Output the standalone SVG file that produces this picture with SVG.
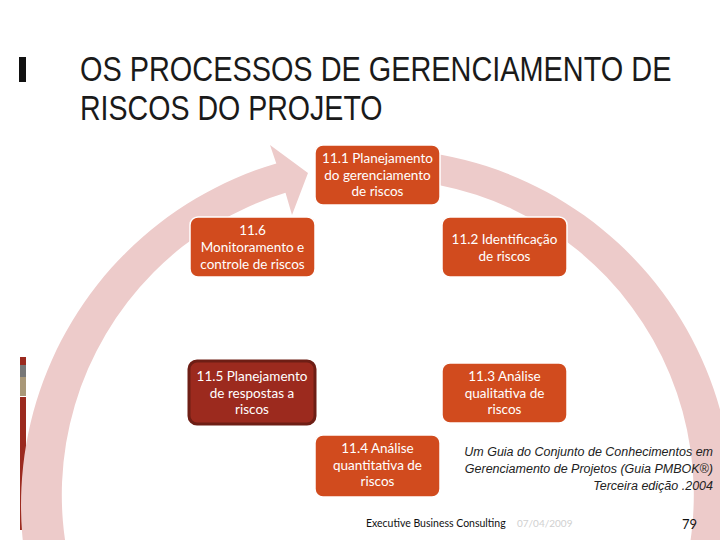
<svg xmlns="http://www.w3.org/2000/svg" width="720" height="540" viewBox="0 0 720 540">
  <style>
    .box { fill: #D14B1E; stroke: #FFFFFF; stroke-width: 1.5; }
    .box-dark { fill: #9C2A1E; stroke: #6E1E15; stroke-width: 3; }
    .lbl { font-family: Lato, "Open Sans", "Liberation Sans", sans-serif; font-size: 13.5px; fill: #FFFFFF; text-anchor: middle; }
    .title { font-family: "Liberation Sans", Arial, sans-serif; font-size: 35px; fill: #1A1A1A; }
    .note { font-family: "Liberation Sans", Arial, sans-serif; font-style: italic; font-size: 12.5px; fill: #222222; text-anchor: end; }
    .foot { font-family: Lato, "Liberation Sans", sans-serif; font-size: 10.5px; fill: #111111; }
  </style>
  <rect width="720" height="540" fill="#FFFFFF"/>

  <!-- left decorative bar -->
  <g id="sidebar">
    <rect x="19" y="57" width="7" height="25" fill="#111111"/>
    <rect x="20" y="357" width="6" height="8" fill="#9B2A1F"/>
    <rect x="20" y="365" width="6" height="12" fill="#777777"/>
    <rect x="20" y="377" width="6" height="19" fill="#A99878"/>
    <rect x="20" y="397" width="6" height="133" fill="#9B2A1F"/>
  </g>

  <!-- circular arrow -->
  <g id="connectors">
    <path d="M 400,149.7 A 356 356 0 1 1 276.3,163.5 L 270,145 L 308,173 L 292,215 L 285.5,192.8 A 316 316 0 1 0 400,179.8 Z" fill="#EDCBCA"/>
  </g>

  <!-- title -->
  <g id="title">
    <text class="title" transform="translate(80,81) scale(0.825,1)">OS PROCESSOS DE GERENCIAMENTO DE</text>
    <text class="title" transform="translate(80,120) scale(0.816,1)">RISCOS DO PROJETO</text>
  </g>

  <g id="n11_1">
    <rect class="box" x="315" y="145" width="125" height="60" rx="8"/>
    <text class="lbl" x="377.5" y="163">11.1 Planejamento</text>
    <text class="lbl" x="377.5" y="180">do gerenciamento</text>
    <text class="lbl" x="377.5" y="196">de riscos</text>
  </g>

  <g id="n11_2">
    <rect class="box" x="442" y="217" width="125" height="60" rx="8"/>
    <text class="lbl" x="504.5" y="244">11.2 Identificação</text>
    <text class="lbl" x="504.5" y="261">de riscos</text>
  </g>

  <g id="n11_3">
    <rect class="box" x="442" y="363" width="125" height="60" rx="8"/>
    <text class="lbl" x="504.5" y="381">11.3 Análise</text>
    <text class="lbl" x="504.5" y="398">qualitativa de</text>
    <text class="lbl" x="504.5" y="414">riscos</text>
  </g>

  <g id="n11_4">
    <rect class="box" x="315" y="435" width="125" height="62" rx="8"/>
    <text class="lbl" x="377.5" y="453">11.4 Análise</text>
    <text class="lbl" x="377.5" y="470">quantitativa de</text>
    <text class="lbl" x="377.5" y="486">riscos</text>
  </g>

  <g id="n11_5">
    <rect class="box-dark" x="189" y="361" width="126" height="63" rx="8"/>
    <text class="lbl" x="252" y="381">11.5 Planejamento</text>
    <text class="lbl" x="252" y="398">de respostas a</text>
    <text class="lbl" x="252" y="414">riscos</text>
  </g>

  <g id="n11_6">
    <rect class="box" x="190" y="217" width="125" height="60" rx="8"/>
    <text class="lbl" x="252.5" y="235">11.6</text>
    <text class="lbl" x="252.5" y="252">Monitoramento e</text>
    <text class="lbl" x="252.5" y="269">controle de riscos</text>
  </g>

  <g id="reference-note">
    <text class="note" x="713" y="456">Um Guia do Conjunto de Conhecimentos em</text>
    <text class="note" x="713" y="473">Gerenciamento de Projetos (Guia PMBOK®)</text>
    <text class="note" x="713" y="490">Terceira edição .2004</text>
  </g>

  <g id="footer">
    <text class="foot" x="366" y="527">Executive Business Consulting</text>
    <text class="foot" x="517" y="527" style="fill:#D0D0D0;font-size:10px">07/04/2009</text>
    <text class="foot" x="682" y="529" style="font-size:13px">79</text>
  </g>
</svg>
